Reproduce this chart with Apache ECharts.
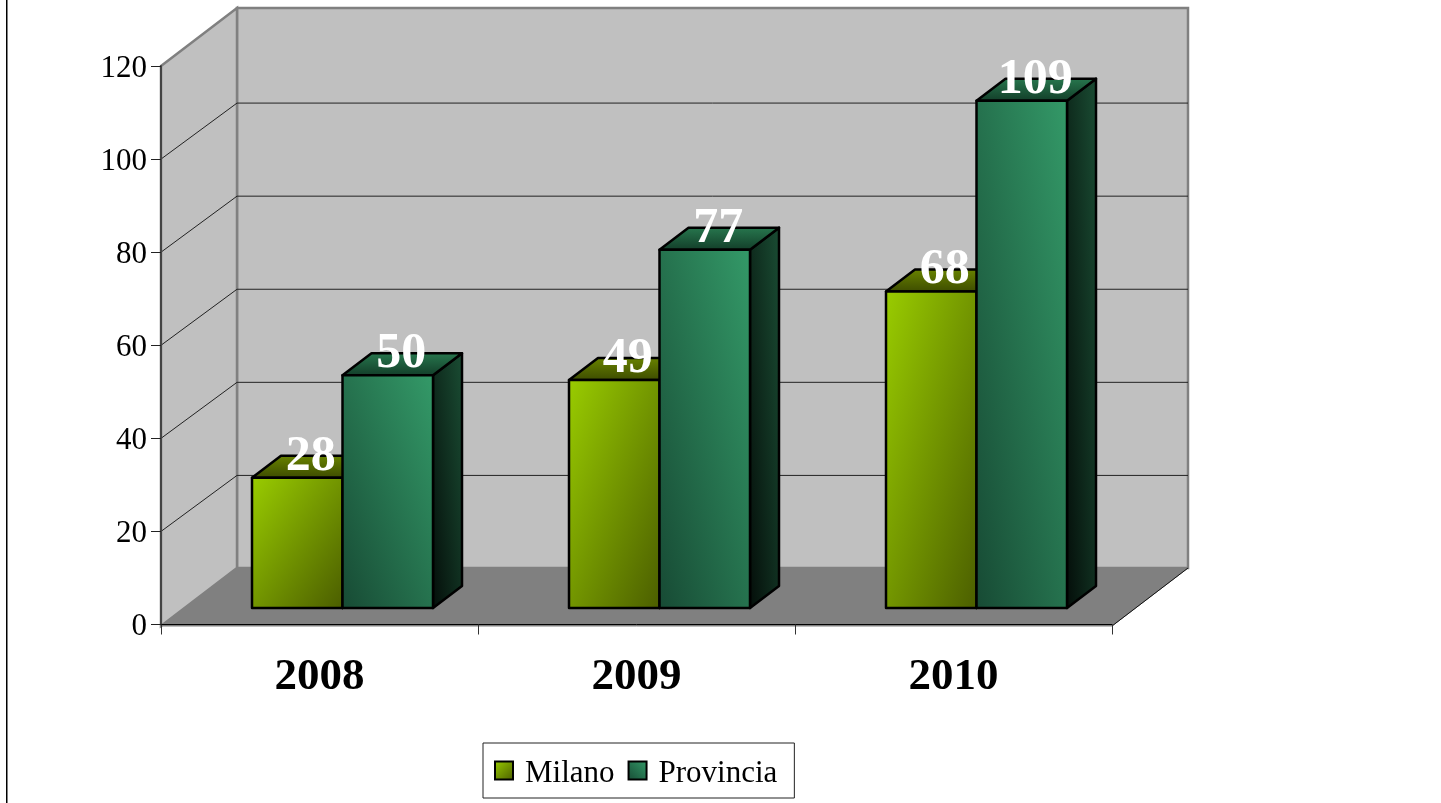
<!DOCTYPE html>
<html>
<head>
<meta charset="utf-8">
<style>html,body{margin:0;padding:0;background:#fff}#c{width:1441px;height:803px}</style>
<script src="https://cdn.jsdelivr.net/npm/echarts@6/dist/echarts.min.js"></script>
</head>
<body>
<div id="c"></div>
<script>
const categories = ['2008', '2009', '2010'];
const milano = [28, 49, 68];
const provincia = [50, 77, 109];
const yTicks = [0, 20, 40, 60, 80, 100, 120];

const SERIF = '"Liberation Serif","Times New Roman",serif';
const WALL = {dx: 76, dy: 56, edge: 58, floorDrop: 1.5};
const BAR = {shiftX: 23, shiftY: 16.5, width: 90.5, depthX: 29, depthY: 22};

const grad = (x, y, x2, y2, a, b) => ({type: 'linear', x, y, x2, y2, colorStops: [{offset: 0, color: a}, {offset: 1, color: b}]});

// Corner-to-corner gradient whose isolines run along the opposite diagonal of a w x h box.
function cornerGrad(w, h, fromBottom, a, b) {
  const t = (2 * w * h) / (w * w + h * h);
  const fx = t * h / w, fy = t * w / h;
  return fromBottom ? grad(0, 1, fx, 1 - fy, a, b) : grad(0, 0, fx, fy, a, b);
}

const palettes = {
  Milano: {
    front: ['#9acd00', '#4a5c00', false],
    top: ['#6a8500', '#3c4a00'],
    side: ['#0f1400', '#3f5000']
  },
  Provincia: {
    front: ['#174a34', '#349b69', true],
    top: ['#28794f', '#123c28'],
    side: ['#040d09', '#1c5237']
  }
};

function poly(points, style, z2) {
  return {type: 'polygon', z2: z2 || 0, shape: {points}, style};
}

function renderWalls(params, api) {
  const v = api.value(0);
  const f = api.coord([0, v]);
  const x0 = params.coordSys.x, w = params.coordSys.width;
  const children = [];
  if (params.dataIndex === 0) {
    const topY = api.coord([0, 120])[1];
    const botY = api.coord([0, 0])[1] + WALL.floorDrop;
    const bx = x0 + WALL.dx, bt = topY - WALL.edge, bb = botY - WALL.edge;
    children.push(poly([[bx, bt], [bx + w, bt], [bx + w, bb], [bx, bb]],
      {fill: '#c0c0c0', stroke: '#808080', lineWidth: 2.5}, 0));
    children.push(poly([[x0, topY], [bx, bt], [bx, bb], [x0, botY]],
      {fill: '#c0c0c0', stroke: '#808080', lineWidth: 2.5}, 1));
    children.push(poly([[x0, botY], [bx, bb], [bx + w, bb], [x0 + w, botY]],
      {fill: '#808080', stroke: '#808080', lineWidth: 1}, 2));
    children.push({type: 'line', z2: 3, shape: {x1: x0 + w, y1: botY, x2: bx + w, y2: bb}, style: {stroke: '#111', lineWidth: 1}});
  } else if (v < 120) {
    children.push({type: 'polyline', z2: 3, shape: {points: [[x0, f[1]], [x0 + WALL.dx, f[1] - WALL.dy], [x0 + w + WALL.dx, f[1] - WALL.dy]]},
      style: {stroke: '#222', lineWidth: 1, fill: 'none'}});
  }
  return {type: 'group', children};
}

function barRenderer(name, side) {
  return function (params, api) {
    const val = api.value(1);
    const top = api.coord([api.value(0), val]);
    const base = api.coord([api.value(0), 0]);
    const cx = top[0] + BAR.shiftX;
    const l = side < 0 ? cx - BAR.width : cx;
    const r = l + BAR.width;
    const yt = top[1] - BAR.shiftY, yb = base[1] - BAR.shiftY;
    const dx = BAR.depthX, dy = BAR.depthY;
    const p = palettes[name];
    const h = yb - yt;
    const st = (fill) => ({fill, stroke: '#000', lineWidth: 2.5, lineJoin: 'round'});
    return {type: 'group', children: [
      poly([[r, yt], [r + dx, yt - dy], [r + dx, yb - dy], [r, yb]], st(cornerGrad(dx, h + dy, true, p.side[0], p.side[1])), 10),
      poly([[l, yt], [l + dx, yt - dy], [r + dx, yt - dy], [r, yt]], st(grad(0, 0, 0, 1, p.top[0], p.top[1])), 10),
      poly([[l, yt], [r, yt], [r, yb], [l, yb]], st(cornerGrad(BAR.width, h, p.front[2], p.front[0], p.front[1])), 11),
      {type: 'text', z2: 100, style: {
        x: (l + r) / 2 + dx / 2 - 1, y: yt - 21, text: String(val),
        fill: '#fff', font: 'bold 50px ' + SERIF, textAlign: 'center', textVerticalAlign: 'middle'
      }}
    ]};
  };
}

const chart = echarts.init(document.getElementById('c'), null, {width: 1441, height: 803});
chart.setOption({
  animation: false,
  backgroundColor: '#fff',
  grid: {left: 161, right: 329, top: 66, bottom: 178.5},
  xAxis: {
    type: 'category', data: categories, z: 10, offset: 1.5,
    axisLine: {show: true, lineStyle: {color: '#000', width: 1}},
    axisTick: {show: true, length: 10, lineStyle: {color: '#333', width: 1}},
    axisLabel: {show: true, margin: 29, fontFamily: SERIF, fontWeight: 'bold', fontSize: 45, color: '#000'}
  },
  yAxis: {
    type: 'value', min: 0, max: 120, interval: 20, z: 10,
    axisLine: {show: true, lineStyle: {color: '#444', width: 2}},
    axisTick: {show: true, length: 10, lineStyle: {color: '#222', width: 1}},
    splitLine: {show: false},
    axisLabel: {
      margin: 14, formatter: '{t|{value}}',
      rich: {t: {fontFamily: SERIF, fontSize: 31, color: '#000', padding: [5, 0, 0, 0]}}
    }
  },
  legend: {
    data: ['Milano', 'Provincia'], left: 483, top: 743, orient: 'horizontal',
    padding: [15, 17, 9, 11], itemGap: 13, itemWidth: 18, itemHeight: 18,
    backgroundColor: '#fff', borderColor: '#222', borderWidth: 1,
    icon: 'rect',
    itemStyle: {borderColor: '#000', borderWidth: 2},
    formatter: '{t|{name}}',
    textStyle: {
      fontFamily: SERIF, fontSize: 31, color: '#000',
      rich: {t: {fontFamily: SERIF, fontSize: 31, color: '#000', padding: [6, 0, 0, 7]}}
    }
  },
  graphic: [{type: 'rect', left: 6, top: 0, shape: {width: 1.5, height: 803}, style: {fill: '#000'}}],
  series: [
    {type: 'custom', name: 'walls', data: yTicks.map(v => [v]), encode: {y: 0}, renderItem: renderWalls, z: 1, silent: true},
    {type: 'custom', name: 'Milano', data: categories.map((c, i) => [i, milano[i]]), encode: {x: 0, y: 1},
      renderItem: barRenderer('Milano', -1), z: 2, itemStyle: {color: grad(0, 0, 1, 1, '#9acd00', '#4a5c00')}},
    {type: 'custom', name: 'Provincia', data: categories.map((c, i) => [i, provincia[i]]), encode: {x: 0, y: 1},
      renderItem: barRenderer('Provincia', 1), z: 2, itemStyle: {color: grad(0, 1, 1, 0, '#174a34', '#349b69')}}
  ]
});
</script>
</body>
</html>
